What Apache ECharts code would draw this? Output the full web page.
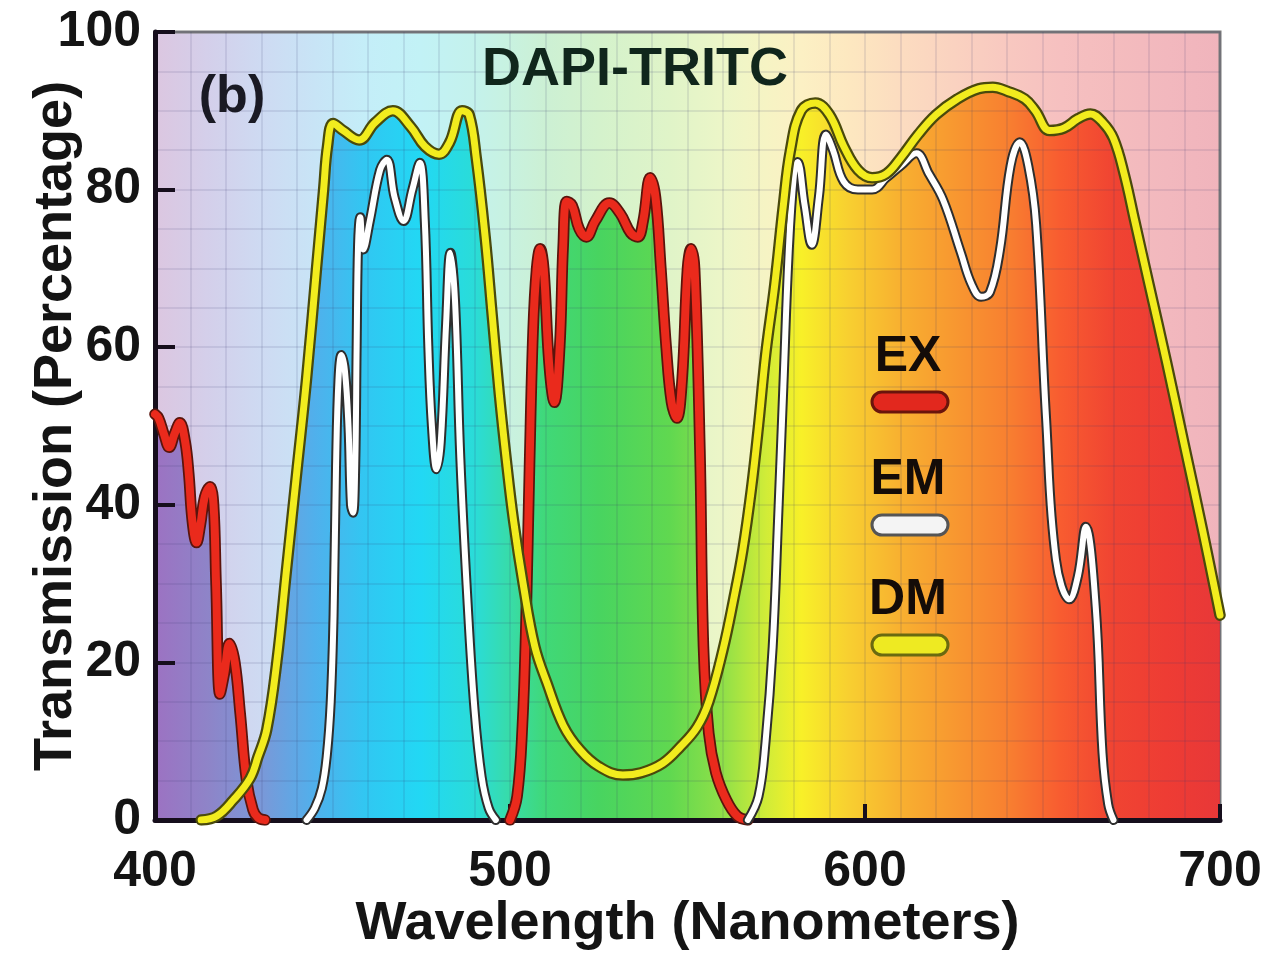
<!DOCTYPE html>
<html><head><meta charset="utf-8">
<script src="https://cdn.jsdelivr.net/npm/echarts@6/dist/echarts.min.js"></script>
<style>html,body{margin:0;padding:0;background:#fff}#c{width:1285px;height:954px}</style>
</head><body><div id="c"></div>
<script>
// ---- Data (wavelength in nm, transmission in %) ----
const xTicks = [400, 500, 600, 700];
const yTicks = [0, 20, 40, 60, 80, 100];

// Excitation filter (EX), two pass bands
const exWl1  = [400, 401, 402.5, 404, 405.5, 407, 408.5, 409.5, 410.5, 411.7, 412.8, 414, 415.5, 416.5, 417.2, 418.3, 419.5, 421, 422.5, 424, 425.8, 427.6, 429, 431];
const exVal1 = [51.5, 51, 49, 47.3, 49, 50.4, 48, 44, 38, 35.2, 37.5, 41, 42.3, 40, 30, 16, 18.5, 22.4, 20, 13.5, 5, 1.3, 0.3, 0];
const exWl2  = [500, 502, 503.5, 504.5, 505.5, 506.5, 507.5, 508.5, 509.5, 511, 512.5, 514, 515, 516, 517.5, 519.5, 521.5, 524, 528, 531, 534, 536, 537.5, 539.5, 541, 542.5, 544, 545.5, 547, 548.5, 550, 551, 552, 553.5, 554.5, 556, 558, 561, 564, 567];
const exVal2 = [0, 3, 12, 25, 45, 62, 70, 72.5, 70, 58, 53, 60, 73, 78.5, 78, 75, 74, 76, 78.3, 77, 74.5, 74, 76, 81.5, 79, 70, 60, 53, 51, 56, 70, 72.5, 70, 47, 22, 11, 6, 2.5, 0.5, 0];

// Emission filter (EM), two pass bands
const emWl1  = [442.7, 445, 447, 448.4, 449.5, 450.3, 451, 451.7, 452.5, 453.5, 454.5, 455.2, 455.8, 456.4, 456.8, 457.2, 457.8, 458.7, 460.5, 463.4, 465.3, 467.5, 470, 472.5, 474.6, 476, 477, 478, 479.3, 480.5, 482, 483.2, 484.5, 486, 488, 490, 492, 494, 496];
const emVal1 = [0, 1.5, 4, 8.2, 15, 26, 45, 56, 59, 57, 50, 40, 39, 45, 60, 73, 76.5, 72.4, 76, 82.5, 83.8, 79, 76, 80, 83.4, 76, 60, 50, 44.5, 48, 63, 72, 66, 46, 28, 14, 5.5, 1.5, 0];
const emWl2  = [567, 570, 572, 574, 575.5, 577, 578.5, 580, 581, 583, 585, 587, 589, 591, 594, 598, 602, 606, 610, 614.5, 618, 622, 627, 630, 632.7, 635.2, 638, 641, 643.6, 646, 648.2, 651, 653.8, 657.6, 660, 662.2, 665, 666.9, 668.5, 670];
const emVal2 = [0, 3, 10, 22, 38, 55, 72, 82, 83.5, 78, 73, 79, 87, 85, 81, 80, 80, 81.5, 83, 84.6, 82, 78.7, 72, 68, 66.4, 67, 72.3, 83, 86, 83, 75.6, 51, 33, 28, 31, 37.2, 27, 8.5, 2, 0];

// Dichromatic mirror (DM)
const dmWl  = [413, 417.4, 422, 426.8, 429, 431.5, 434.3, 437.1, 439.9, 442.7, 445.5, 447.5, 448.6, 450.2, 453, 457.5, 462, 467, 472, 476, 480, 483, 486.5, 488.5, 490.5, 493, 495, 497, 499, 501, 503.7, 507, 510.4, 515, 519.7, 525, 531.8, 537, 543, 548, 552.7, 556, 560, 563, 565.6, 568, 570, 572, 574.6, 577, 579, 582, 586, 590, 594, 598, 602, 606, 610, 615, 620, 626, 632, 636, 640, 645, 648, 652, 656, 660, 663.5, 667, 670, 673, 676, 680, 685, 690, 695, 700];
const dmVal = [0, 0.5, 2.5, 5.3, 8, 11.5, 20, 32, 44, 56, 70, 80, 85.5, 88.4, 87.5, 86.3, 88.5, 90, 88, 85.5, 84.5, 86, 90, 89.5, 84, 74, 64, 54, 45.5, 38, 30, 22, 17.4, 12, 8.9, 6.8, 5.7, 6, 7.2, 9.3, 11.8, 15, 21.6, 28, 34.3, 42, 50, 59, 68, 78, 85, 90, 91, 89.5, 85.5, 82.5, 81.5, 82, 84, 87, 89.5, 91.5, 92.8, 93, 92.5, 91.5, 90, 87.5, 87.8, 89, 89.6, 88.5, 86.5, 82, 76, 68, 58, 47.5, 37, 26];

// Spectrum colour stops (wavelength -> saturated fill / pale background)
const specWl   = [400, 415, 430, 445, 460, 475, 490, 500, 510, 525, 545, 560, 572, 582, 595, 610, 625, 640, 655, 670, 685, 700];
const specFill = ['#9c72c2', '#8e84c8', '#7a98d8', '#50b0ec', '#30c8f2', '#22d8f4', '#2adcd8', '#38dca8', '#40d878', '#48d460', '#60d850', '#90e048', '#d0ec38', '#f8f028', '#f8d030', '#f8b030', '#f89830', '#f88030', '#f85c30', '#f04432', '#ee3c34', '#e83838'];
const specBg   = ['#dcc6e0', '#d4cfea', '#cedaf2', '#c8e4f6', '#c4eef8', '#c2f2f6', '#c4f2ec', '#c8f2e0', '#ccf0d4', '#d4f2cc', '#e0f4c8', '#ecf6c8', '#f6f4c4', '#fcf0c4', '#fde8c0', '#fcdcc0', '#fad2c0', '#f8c8c0', '#f6c0c0', '#f4bcbe', '#f2b8be', '#f0b4bc'];

// ---- Build ----
const X0 = 400, X1 = 700;
const GL = 155, GR = 65, GT = 32, GB = 134, W = 1285;
function pairs(wl, v) { return wl.map((w, i) => [w, v[i]]); }
const GAP = [['-', '-']];
const exData = pairs(exWl1, exVal1).concat(GAP, pairs(exWl2, exVal2));
const emData = pairs(emWl1, emVal1).concat(GAP, pairs(emWl2, emVal2));
const dmData = pairs(dmWl, dmVal);

function stops(cols) { return specWl.map((w, i) => ({ offset: (w - X0) / (X1 - X0), color: cols[i] })); }
const fillGrad = new echarts.graphic.LinearGradient(GL, 0, W - GR, 0, stops(specFill), true);
const bgGrad = new echarts.graphic.LinearGradient(0, 0, 1, 0, stops(specBg));

const FONT = '"Liberation Sans", Arial, Helvetica, sans-serif';
const INK = '#141414';
const gridLine = { show: true, lineStyle: { color: 'rgba(60,60,110,0.15)', width: 1.5 } };

function fill(data) {
  return { type: 'line', data, z: 1, smooth: 0.4, showSymbol: false, silent: true,
    lineStyle: { width: 0 }, areaStyle: { color: fillGrad, opacity: 1 } };
}
function line(data, color, width, z) {
  return { type: 'line', data, z, smooth: 0.4, showSymbol: false, silent: true,
    lineStyle: { color, width, cap: 'round', join: 'round' } };
}

const legendItems = [
  { label: 'EX', fill: '#e2281e', stroke: '#6a140c', y: 357 },
  { label: 'EM', fill: '#f4f4f4', stroke: '#555555', y: 480 },
  { label: 'DM', fill: '#eeea22', stroke: '#6a6a10', y: 600 }
];
const graphics = [
  { type: 'text', z: 100, x: 635, y: 70, style: { text: 'DAPI-TRITC', font: 'bold 54px ' + FONT, fill: '#10261c', textAlign: 'center', textVerticalAlign: 'middle' } },
  { type: 'text', z: 100, x: 232, y: 98, style: { text: '(b)', font: 'bold 52px ' + FONT, fill: '#1a1a24', textAlign: 'center', textVerticalAlign: 'middle' } }
];
legendItems.forEach(it => {
  graphics.push({ type: 'text', z: 100, x: 908, y: it.y, style: { text: it.label, font: 'bold 50px ' + FONT, fill: '#140c08', textAlign: 'center', textVerticalAlign: 'middle' } });
  graphics.push({ type: 'rect', z: 100, shape: { x: 872, y: it.y + 35, width: 76, height: 20, r: 10 }, style: { fill: it.fill, stroke: it.stroke, lineWidth: 3 } });
});

const chart = echarts.init(document.getElementById('c'), null, { renderer: 'canvas' });
chart.setOption({
  animation: false,
  backgroundColor: '#ffffff',
  grid: { left: GL, right: GR, top: GT, bottom: GB, containLabel: false, outerBoundsMode: 'none',
    show: true, backgroundColor: bgGrad, borderColor: '#7a7a7a', borderWidth: 3 },
  xAxis: {
    type: 'value', min: X0, max: X1, interval: 100, z: 2,
    axisLine: { show: true, lineStyle: { color: '#160e1c', width: 5 } },
    axisTick: { show: true, inside: true, length: 16, lineStyle: { color: '#160e1c', width: 4 } },
    axisLabel: { fontSize: 50, fontWeight: 'bold', fontFamily: FONT, color: INK, margin: 27,
      customValues: xTicks },
    minorTick: { show: false, splitNumber: 10 },
    splitLine: gridLine, minorSplitLine: gridLine,
    name: 'Wavelength (Nanometers)', nameLocation: 'middle', nameGap: 77, nameMoveOverlap: false,
    nameTextStyle: { fontSize: 54, fontWeight: 'bold', fontFamily: FONT, color: INK }
  },
  yAxis: {
    type: 'value', min: 0, max: 100, interval: 20, z: 2,
    axisLine: { show: true, lineStyle: { color: '#160e1c', width: 5 } },
    axisTick: { show: true, inside: true, length: 20, lineStyle: { color: '#160e1c', width: 4 } },
    axisLabel: { fontSize: 50, fontWeight: 'bold', fontFamily: FONT, color: INK, margin: 14,
      customValues: yTicks },
    minorTick: { show: false, splitNumber: 4 },
    splitLine: gridLine, minorSplitLine: gridLine,
    name: 'Transmission (Percentage)', nameLocation: 'middle', nameGap: 72, nameMoveOverlap: false,
    nameTextStyle: { fontSize: 54, fontWeight: 'bold', fontFamily: FONT, color: INK }
  },
  series: [
    fill(exData),
    fill(dmData),
    line(exData, '#5a140c', 11.5, 3),
    line(exData, '#ea2a1c', 8, 4),
    line(emData, '#2e2e2e', 10, 5),
    line(emData, '#ffffff', 6, 6),
    line(dmData, '#4a4a0c', 11.5, 7),
    line(dmData, '#f2ec1e', 7, 8)
  ],
  graphic: graphics
});
</script></body></html>
